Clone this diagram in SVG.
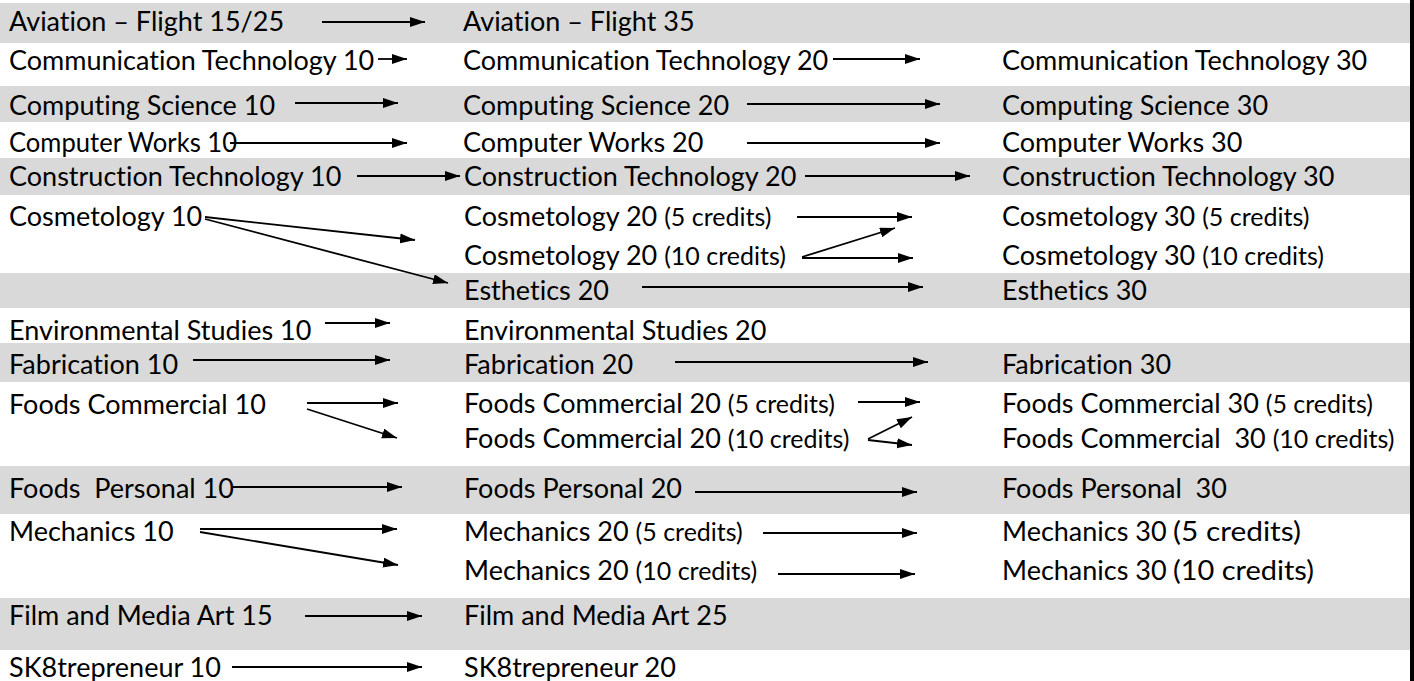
<svg xmlns="http://www.w3.org/2000/svg" width="1414" height="681" viewBox="0 0 1414 681">
<style>
text{font-family:Lato,"Liberation Sans",sans-serif;font-size:27px;fill:#000;font-variant-ligatures:none;font-feature-settings:"liga" 0,"clig" 0}
.s{font-size:25px}
.m{font-size:26px}
.band{fill:#d9d9d9}
#connectors path{stroke:#000;stroke-width:1.8;fill:none;marker-end:url(#ah)}
</style>
<defs>
<marker id="ah" markerUnits="userSpaceOnUse" markerWidth="16" markerHeight="11" refX="15" refY="5" orient="auto" viewBox="0 0 16 11">
<path d="M0,0 L15,5 L0,10 z" fill="#000"/>
</marker>
</defs>
<rect width="1414" height="681" fill="#fff"/>
<g id="bands">
<rect class="band" x="0" y="3" width="1410" height="40"/>
<rect class="band" x="0" y="86" width="1410" height="36"/>
<rect class="band" x="0" y="158" width="1410" height="37"/>
<rect class="band" x="0" y="273" width="1410" height="35"/>
<rect class="band" x="0" y="343" width="1410" height="39"/>
<rect class="band" x="0" y="466" width="1410" height="48"/>
<rect class="band" x="0" y="598" width="1410" height="52"/>
</g>
<rect id="border" x="1410" y="0" width="4" height="681" fill="#000"/>

<g id="av1"><text x="9" y="31">Aviation – Flight 15/25</text></g>
<g id="av2"><text x="463" y="31">Aviation – Flight 35</text></g>

<g id="ct1"><text x="9" y="70">Communication Technology 10</text></g>
<g id="ct2"><text x="463" y="70">Communication Technology 20</text></g>
<g id="ct3"><text x="1002" y="70">Communication Technology 30</text></g>

<g id="cs1"><text x="9" y="115">Computing Science 10</text></g>
<g id="cs2"><text x="463" y="115">Computing Science 20</text></g>
<g id="cs3"><text x="1002" y="115">Computing Science 30</text></g>

<g id="cw1"><text x="9" y="152" textLength="228" lengthAdjust="spacingAndGlyphs">Computer Works 10</text></g>
<g id="cw2"><text x="463" y="152">Computer Works 20</text></g>
<g id="cw3"><text x="1002" y="152">Computer Works 30</text></g>

<g id="con1"><text x="9" y="186">Construction Technology 10</text></g>
<g id="con2"><text x="464" y="186">Construction Technology 20</text></g>
<g id="con3"><text x="1002" y="186">Construction Technology 30</text></g>

<g id="cos1"><text x="9" y="226">Cosmetology 10</text></g>
<g id="cos2a"><text x="464" y="226">Cosmetology 20 <tspan class="s">(5 credits)</tspan></text></g>
<g id="cos2b"><text x="464" y="265">Cosmetology 20 <tspan class="s">(10 credits)</tspan></text></g>
<g id="cos3a"><text x="1002" y="226">Cosmetology 30 <tspan class="s">(5 credits)</tspan></text></g>
<g id="cos3b"><text x="1002" y="265">Cosmetology 30 <tspan class="s">(10 credits)</tspan></text></g>

<g id="est2"><text x="464" y="300">Esthetics 20</text></g>
<g id="est3"><text x="1002" y="300">Esthetics 30</text></g>

<g id="env1"><text x="9" y="340">Environmental Studies 10</text></g>
<g id="env2"><text x="464" y="340">Environmental Studies 20</text></g>

<g id="fab1"><text x="9" y="374">Fabrication 10</text></g>
<g id="fab2"><text x="464" y="374">Fabrication 20</text></g>
<g id="fab3"><text x="1002" y="374">Fabrication 30</text></g>

<g id="fc1"><text x="9" y="414">Foods Commercial 10</text></g>
<g id="fc2a"><text x="464" y="413">Foods Commercial 20 <tspan class="s">(5 credits)</tspan></text></g>
<g id="fc2b"><text x="464" y="448">Foods Commercial 20 <tspan class="s">(10 credits)</tspan></text></g>
<g id="fc3a"><text x="1002" y="413">Foods Commercial 30 <tspan class="s">(5 credits)</tspan></text></g>
<g id="fc3b"><text x="1002" y="448" xml:space="preserve">Foods Commercial  30 <tspan class="s">(10 credits)</tspan></text></g>

<g id="fp1"><text x="9" y="498" xml:space="preserve">Foods  Personal 10</text></g>
<g id="fp2"><text x="464" y="498">Foods Personal 20</text></g>
<g id="fp3"><text x="1002" y="498" xml:space="preserve">Foods Personal  30</text></g>

<g id="me1"><text x="9" y="541">Mechanics 10</text></g>
<g id="me2a"><text x="464" y="541">Mechanics 20 <tspan class="s">(5 credits)</tspan></text></g>
<g id="me2b"><text x="464" y="580">Mechanics 20 <tspan class="s">(10 credits)</tspan></text></g>
<g id="me3a"><text x="1002" y="541">Mechanics 30</text><text class="m" x="1173" y="541" textLength="128" lengthAdjust="spacingAndGlyphs">(5 credits)</text></g>
<g id="me3b"><text x="1002" y="580">Mechanics 30</text><text class="m" x="1173" y="580" textLength="141" lengthAdjust="spacingAndGlyphs">(10 credits)</text></g>

<g id="fm1"><text x="9" y="625">Film and Media Art 15</text></g>
<g id="fm2"><text x="464" y="625">Film and Media Art 25</text></g>

<g id="sk1"><text x="9" y="677">SK8trepreneur 10</text></g>
<g id="sk2"><text x="464" y="677">SK8trepreneur 20</text></g>

<g id="connectors">
<path d="M322,22 L425,22"/>
<path d="M378,59 L407,59"/>
<path d="M833,59 L920,59"/>
<path d="M295,103 L398,103"/>
<path d="M747,104 L940,104"/>
<path d="M230,143 L407,143"/>
<path d="M747,143 L940,143"/>
<path d="M357,176 L460,176"/>
<path d="M805,176 L970,176"/>
<path d="M205,217 L415,240"/>
<path d="M205,219 L448,283"/>
<path d="M797,217 L912,217"/>
<path d="M802,257 L895,228"/>
<path d="M802,258 L913,258"/>
<path d="M642,287 L923,287"/>
<path d="M325,323 L390,323"/>
<path d="M193,360 L390,360"/>
<path d="M675,362 L928,362"/>
<path d="M307,403 L398,403"/>
<path d="M307,409 L397,438"/>
<path d="M858,402 L920,402"/>
<path d="M868,439 L912,417"/>
<path d="M868,440 L912,445"/>
<path d="M232,487 L402,487"/>
<path d="M695,492 L917,492"/>
<path d="M200,529 L397,529"/>
<path d="M200,532 L398,565"/>
<path d="M763,533 L917,533"/>
<path d="M778,574 L915,574"/>
<path d="M305,616 L422,616"/>
<path d="M232,667 L422,667"/>
</g>
</svg>
